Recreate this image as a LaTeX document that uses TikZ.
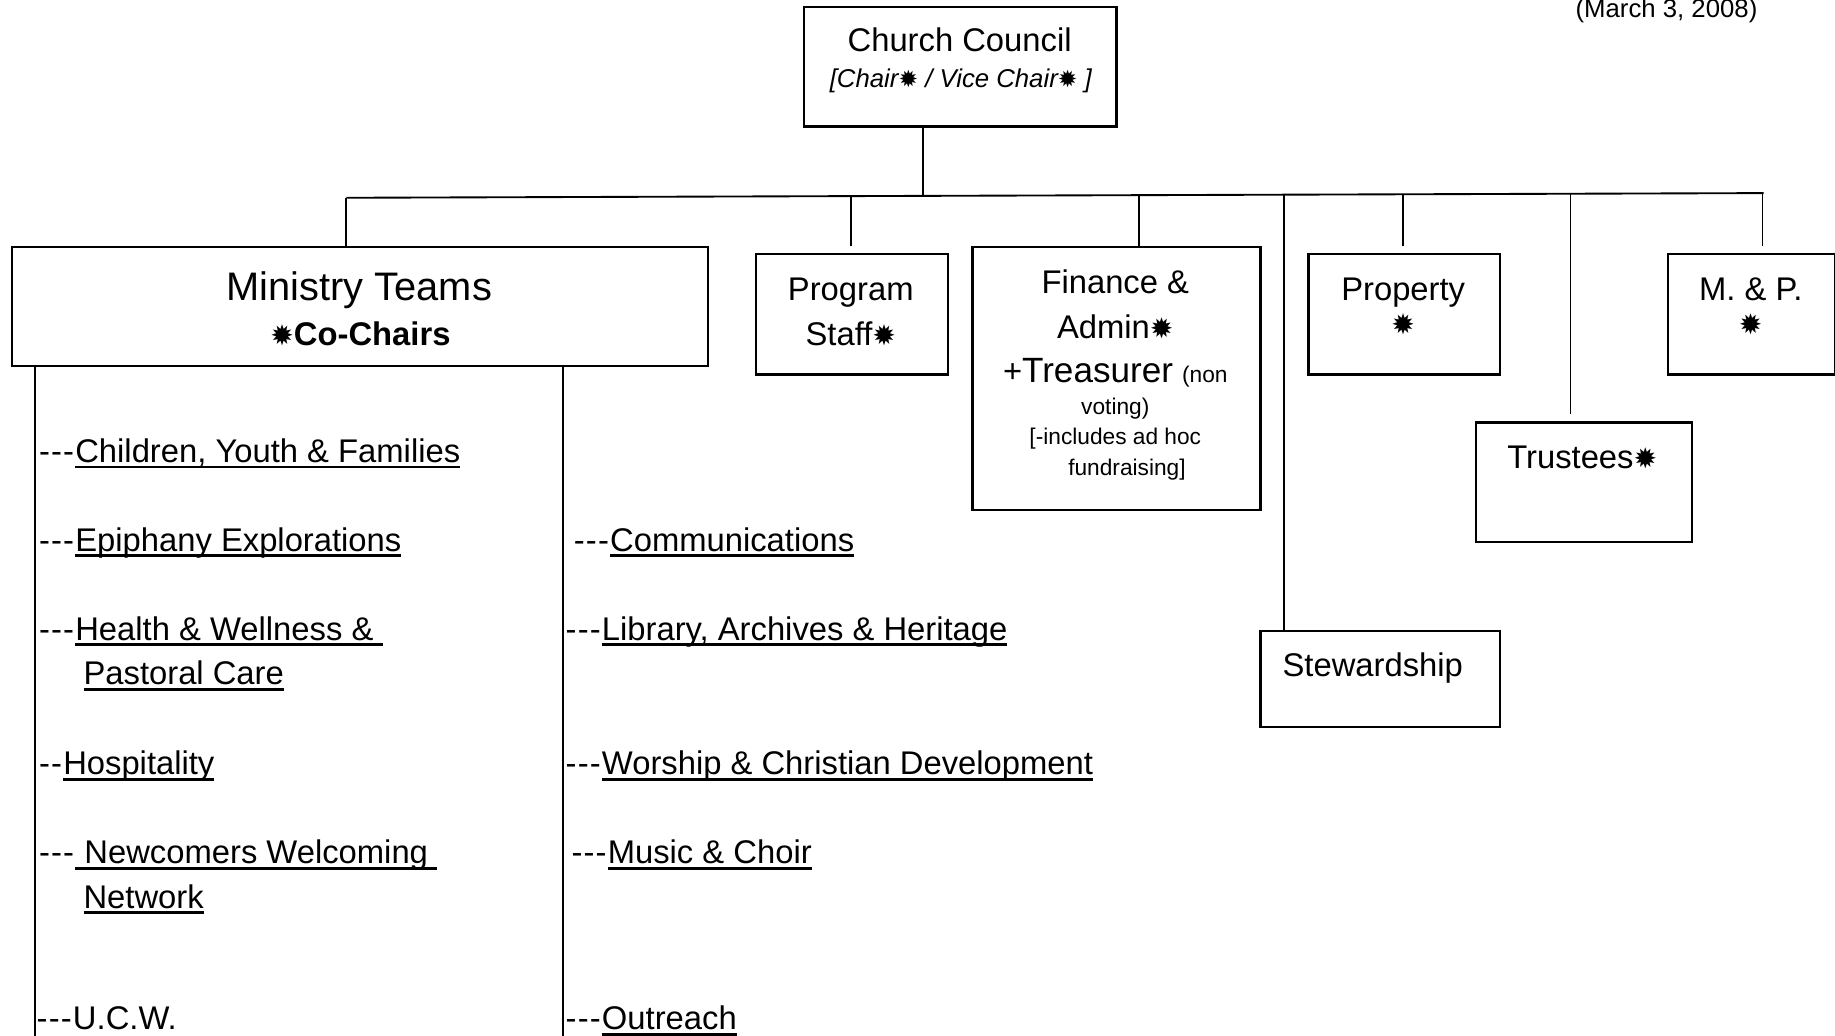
\documentclass[tikz,border=0pt]{standalone}
\usepackage{fontspec}
\setmainfont{Liberation Sans}
\newfontfamily\symfont{DejaVu Sans}
\newcommand\st[1][11]{{\symfont\fontsize{#1}{#1}\selectfont ✹}}
\newcommand\myul[1]{\setbox0\hbox{#1}\rlap{\rule[-2.6pt]{\wd0}{1.2pt}}\box0}
\newcommand\smallfin{\fontsize{9.7}{11}\selectfont}
\newcommand\hy{-\kern0.5pt}
\newcommand\dsh{\hy\hy\hy}
\begin{document}
\begin{tikzpicture}[x=0.5pt,y=-0.5pt,
  box/.style={draw,line width=1pt,inner sep=0,anchor=north west},
  conn/.style={line width=0.8pt},
  title/.style={inner sep=0,anchor=base,font=\fontsize{14}{16}\selectfont},
  smalltxt/.style={inner sep=0,anchor=base,font=\smallfin},
  item/.style={inner sep=0,anchor=base west,font=\fontsize{14}{16}\selectfont}]
\useasboundingbox (0,0) rectangle (1568,885.25);

% date
\node[title,font=\fontsize{11}{13}\selectfont] (date) at (1424,15) {(March 3, 2008)};

% boxes
\node[box,minimum width=133.5pt,minimum height=51pt] (cc) at (686,5) {};
\node[box,minimum width=297.5pt,minimum height=51pt] (mt) at (9,210) {};
\node[box,minimum width=82pt,minimum height=51.5pt] (pg) at (645,216) {};
\node[box,minimum width=123pt,minimum height=112.5pt] (fin) at (830,210) {};
\node[box,minimum width=82pt,minimum height=51.5pt] (pr) at (1117,216) {};
\node[box,minimum width=71.5pt,minimum height=51.5pt] (mp) at (1424,216) {};
\node[box,minimum width=92.5pt,minimum height=51pt] (tr) at (1260,360) {};
\node[box,minimum width=102.5pt,minimum height=41pt] (sw) at (1076,538) {};

% box texts
\node[title] (cct) at (820,44) {Church Council};
\node[title,font=\fontsize{11}{13}\selectfont\itshape] (ccs) at (821,75) {[Chair\st[10] / Vice Chair\st[10] ]};
\node[title,font=\fontsize{17}{20}\selectfont] (mtt) at (307,257) {Ministry Teams};
\node[title] (mtc) at (308,295) {\st[12]\textbf{Co-Chairs}};
\node[title] (pg1) at (727,257) {Program};
\node[title] (pg2) at (727,295) {Staff\st[12]};
\node[title] (fin1) at (953,251) {Finance \&};
\node[title] (fin2) at (953,289) {Admin\st[12]};
\node[title] (fin3) at (953,327) {+{\fontsize{15}{17}\selectfont Treasurer} {\smallfin (non}};
\node[smalltxt] (fin4) at (953,354) {voting)};
\node[smalltxt] (fin5) at (953,380) {[-includes ad hoc};
\node[smalltxt] (fin6) at (963,406) {fundraising]};
\node[title] (pr1) at (1199,257) {Property};
\node[title] (pr2) at (1199,286) {\st[12]};
\node[title] (mp1) at (1496,257) {M. \& P.};
\node[title] (mp2) at (1496,286) {\st[12]};
\node[title] (tr1) at (1352,400) {Trustees\st[12]};
\node[title] (sw1) at (1173,578) {Stewardship};

% connectors
\coordinate (busL) at (296,169);
\coordinate (busR) at (1507,165);
\coordinate (j) at (789,167.4);
\coordinate (d2) at (727,167.6);
\coordinate (d3) at (973,166.8);
\coordinate (d4) at (1097,166.4);
\coordinate (d5) at (1199,166.0);
\coordinate (d6) at (1342,165.5);
\coordinate (d7) at (1506,165.0);
\draw[conn] (busL) -- (busR);
\draw[conn] (cc.south -| j) -- (j);
\draw[conn] (busL) -- (busL |- mt.north);
\draw[conn] (d2) -- ([yshift=3pt]d2 |- pg.north);
\draw[conn] (d3) -- (d3 |- fin.north);
\draw[conn] (d4) -- (d4 |- sw.north);
\draw[conn] (d5) -- ([yshift=3pt]d5 |- pr.north);
\draw[conn] (d6) -- ([yshift=3pt]d6 |- tr.north);
\draw[conn] (d7) -- ([yshift=3pt]d7 |- mp.north);

\coordinate (lb1) at (30,885.25);
\coordinate (lb2) at (481,885.25);
\draw[conn] (lb1 |- mt.south) -- (lb1);
\draw[conn] (lb2 |- mt.south) -- (lb2);

% left list
\node[item] (l1) at (33,395) {\dsh\myul{Children, Youth \& Families}};
\node[item] (l2) at (33,471) {\dsh\myul{Epiphany Explorations}};
\node[item] (l3) at (33,547) {\dsh\myul{Health \& Wellness \& }};
\node[item] (l3b) at (71,585) {\myul{Pastoral Care}};
\node[item] (l4) at (33,662) {\hy\hy\myul{Hospitality}};
\node[item] (l5) at (33,738) {\dsh\myul{ Newcomers Welcoming }};
\node[item] (l5b) at (71,776) {\myul{Network}};
\node[item] (l6) at (31,880) {\dsh U.C.W.};

% right list
\node[item] (r1) at (490,471) {\dsh\myul{Communications}};
\node[item] (r2) at (483,547) {\dsh\myul{Library, Archives \& Heritage}};
\node[item] (r3) at (483,662) {\dsh\myul{Worship \& Christian Development}};
\node[item] (r4) at (488,738) {\dsh\myul{Music \& Choir}};
\node[item] (r5) at (483,880) {\dsh\myul{Outreach}};
\end{tikzpicture}
\end{document}
